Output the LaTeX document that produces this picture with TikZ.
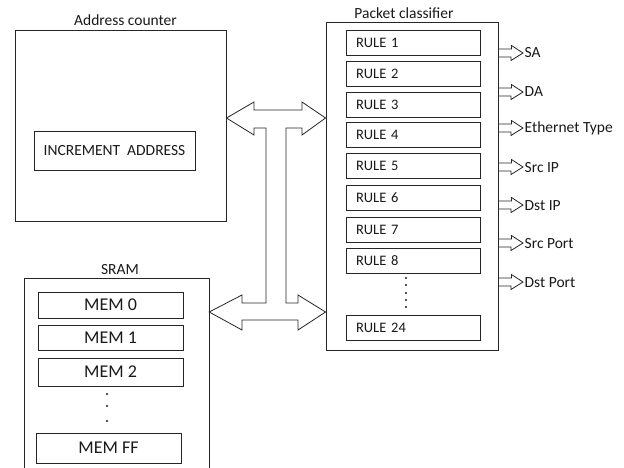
\documentclass[tikz,border=0pt]{standalone}
\usepackage{fontspec}
\setmainfont{Carlito}
\usetikzlibrary{calc}
\definecolor{ln}{HTML}{262626}
\definecolor{tx}{HTML}{1A1A1A}
\newcommand\myrulefont{\fontsize{14.5}{17}\selectfont\spaceskip=1.5pt plus 0.5pt\relax}
\begin{document}
\begin{tikzpicture}[x=1pt,y=-1pt,
  box/.style={draw=ln, line width=0.9pt, rectangle, inner sep=0pt},
  lbl/.style={font=\fontsize{15.5}{18}\selectfont, text=tx, inner sep=0pt},
  rulebox/.style={box, minimum width=134pt, minimum height=25pt, text width=114pt, align=left, font=\myrulefont, text=tx},
  membox/.style={box, minimum width=145pt, minimum height=26pt, font=\fontsize{18}{21}\selectfont, text=tx},
  outl/.style={lbl, anchor=base west, inner xsep=1.5pt},
  bus/.style={draw=ln, line width=0.8pt, line join=miter},
  outarrow/.style={draw=ln, line width=0.8pt},
  dotmark/.style={fill=tx}]
\useasboundingbox (0,0) rectangle (624,468);
\fill[white] (0,0) rectangle (624,468);

% Address counter
\node[box, minimum width=211pt, minimum height=191pt] (ac) at (120.5,125.5) {};
\node[lbl, anchor=base] (acl) at (125.5,26) {Address counter};
\node[box, minimum width=161pt, minimum height=39pt, lbl, draw=ln, line width=0.9pt] (inc) at (114.5,150.5) {INCREMENT\ \ ADDRESS};

% SRAM
\node[minimum width=184pt, minimum height=189pt, inner sep=0pt] (sram) at (117,373.5) {};
\draw[ln, line width=0.9pt] (sram.south west) -- (sram.north west) -- (sram.north east) -- (sram.south east);
\node[lbl, anchor=base] (sraml) at (120,274) {SRAM};
\node[membox] (m0) at (110.5,305) {MEM 0};
\node[membox, minimum height=25pt] (m1) at (110.5,337.5) {MEM 1};
\node[membox, minimum height=28pt] (m2) at (110.5,372) {MEM 2};
\node[membox, minimum height=30pt] (mff) at (108.5,448) {MEM FF};
\foreach \yy in {394,406,421} \fill[dotmark] (107,\yy) circle (1.1pt);

% Packet classifier
\node[box, minimum width=172pt, minimum height=328pt] (pc) at (412,186) {};
\node[lbl, anchor=base] (pcl) at (404,19) {Packet classifier};
\node[rulebox] (r1) at (413,42.5) {RULE 1};
\node[rulebox] (r2) at (413,74) {RULE 2};
\node[rulebox] (r3) at (413,104.5) {RULE 3};
\node[rulebox] (r4) at (413,135) {RULE 4};
\node[rulebox] (r5) at (413,166) {RULE 5};
\node[rulebox] (r6) at (413,198) {RULE 6};
\node[rulebox] (r7) at (413,229.5) {RULE 7};
\node[rulebox] (r8) at (413,261) {RULE 8};
\node[rulebox] (r24) at (413,327.5) {RULE 24};
\foreach \yy in {278,285,293,300,307} \fill[dotmark] (406,\yy) circle (1.1pt);

% bidirectional bus
\coordinate (ya) at (0,118);
\coordinate (yb) at (0,312);
\coordinate (tl) at (ac.east |- ya);
\coordinate (tr) at (pc.west |- ya);
\coordinate (bl) at (sram.east |- yb);
\coordinate (br) at (pc.west |- yb);
\draw[bus] (tl) -- (254,102) -- (254,110) -- (302,110) -- (302,102) -- (tr)
  -- (302,135) -- (302,128) -- (286,128) -- (286,303) -- (298,303) -- (298,295)
  -- (br) -- (298,330) -- (298,320) -- (242,320) -- (242,330) -- (bl)
  -- (242,295) -- (242,303) -- (266,303) -- (266,128) -- (254,128) -- (254,135) -- cycle;

% outputs
\node[outl] (o1) at (523,58) {SA};
\node[outl] (o2) at (523,97) {DA};
\node[outl] (o3) at (523,133) {Ethernet Type};
\node[outl] (o4) at (523,172) {Src IP};
\node[outl] (o5) at (523,210) {Dst IP};
\node[outl] (o6) at (523,248) {Src Port};
\node[outl] (o7) at (523,287) {Dst Port};
\foreach \o/\c in {o1/53,o2/92,o3/128,o4/167,o5/205,o6/243,o7/282} {
  \coordinate (tip) at (523,\c);
  \draw[outarrow] (pc.east |- tip) ++(0,-4) -- ++(13,0) -- ++(0,-3.5) -- (tip)
    -- ++(-12,7.5) -- ++(0,-3.5) -- ++(-13,0);
}
\end{tikzpicture}
\end{document}
